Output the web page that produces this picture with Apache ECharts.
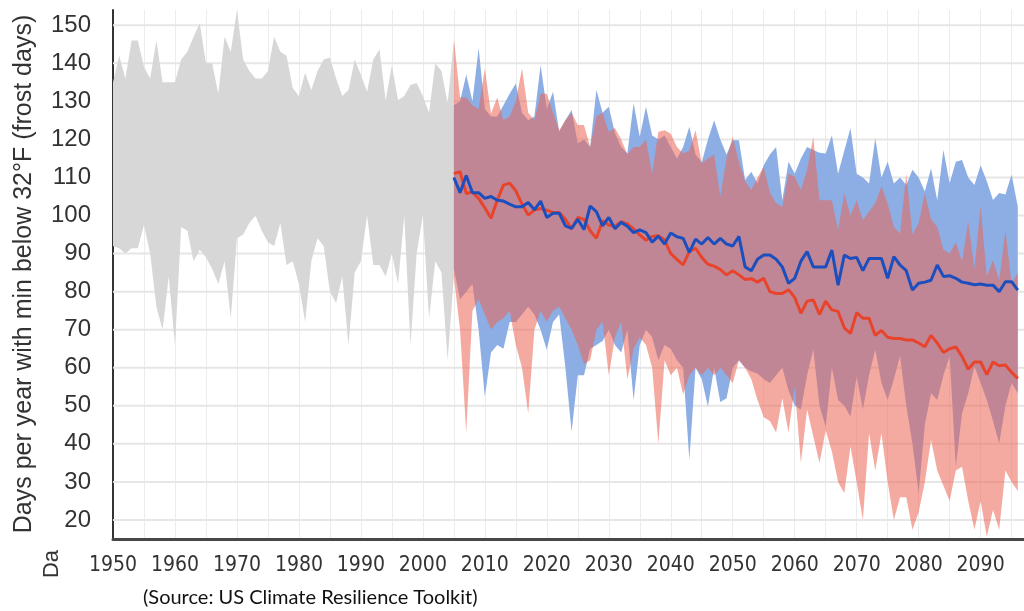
<!DOCTYPE html>
<html><head><meta charset="utf-8">
<script src="https://cdn.jsdelivr.net/npm/echarts@6/dist/echarts.min.js"></script>
<style>html,body{margin:0;padding:0;background:#fff}#c{width:1024px;height:611px}</style>
</head><body><div id="c"></div>
<script>
// ---- data ----
const histStart = 1950;
const histUpper = [135,142,136,146,146,139,136,146,135,135,
  135,141,143,147,150.5,140,140,132,147,143,
  154,141,138,136,136,138,147,143,142,133.5,
  131.4,137.5,133,138,141,141.5,136,131.4,133,141,
  137,132.5,141,143.6,130.3,139.5,130.3,131.4,134.3,134.8,
  131.4,127,140,138,129.5,146];
const histLower = [92,91.4,90,91.4,91.4,97.5,90,76,70,84,
  66,97,96,88,91,89,86,82,88,73,
  94,95,98,100,96,93,92,98,87,88,
  82,72,88,94,92,80,77,84,66,85,
  88,100,87,87,84,90,82,100,66,90,
  100,73,88,85,62,84];

const projStart = 2005;
const lowUpper = [129,130,137,130,144,
  128,126,126,129,132,134.7,127,125,126,139.5,
  128,132.5,122,125,127.7,119,120,118,133,127,
  128.6,121.6,118,116.3,129.5,120.7,128.6,121,120,121,
  118,115,118,123.3,116,114,120,125,120,116,
  119.8,119.8,109.3,111.5,108.4,113.2,116,118,104,114.1,
  111,115,118,117.2,116.5,116.3,121.1,111,117,122.9,
  111,110,108.4,120.3,110,114.1,108.4,110,108,112,
  110,106.3,112.4,104,117.2,108.5,114.1,114.6,110,108,
  113.2,109,104.1,105.9,105.5,110.8,102.3];
const lowLower = [86,78,80,82,70,
  52.4,64,66,65,72,72,74,76,74,70,
  64.7,72,74,60,43.2,58,58,65,66,67,
  70,66,64,70,51.5,66,70,68,62,66,
  65,62,60,35.8,60,57,49.8,60,51,52,
  60,62,60,59,58.5,57,56,58,60,54,
  50,49,58,64.7,50,44.5,60,51.5,50,47.2,
  57.7,49,58,64.7,56,51.5,57,63,50,40,
  27,45,53.3,51.5,58,63,34,48,53.3,60.3,
  56,51.5,46,40.1,50,56,53.3];
const lowMedian = [110,106,110.5,106,106,
  104.5,105,104,103.8,103,102.3,102.3,103.4,101.5,103.8,
  99.5,100.6,100.6,97.3,96.6,99,96.3,102.5,101,97.3,
  99.5,96.5,98.2,97.2,95.5,96.2,95.5,93,94.6,92.5,
  95.4,94.4,94,90.3,93.8,92.5,94.2,92.5,94,92.5,
  92,94.5,86.5,85.5,88.5,89.6,89.6,88.5,86.5,82.2,
  83.5,88,90.5,86.5,86.5,86.5,90.9,81.7,89.6,88.7,
  89,85.5,88.7,88.7,88.7,83.5,89.2,87,85.5,80.4,
  82.2,82.5,83,87,84,84.2,83.5,82.5,82.2,81.8,
  82,81.7,81.7,80,82.6,82.6,80.4];

const highUpper = [146.5,131,131,129,128,
  138.6,126.8,131,125,126,130,138.6,127,125,132,
  132,127,122.4,125,127,123.8,123.8,118,126,127,
  122,123,120,116,118,118,120,111,122,122.4,
  121.5,118,116.3,117,122.4,113.7,115,116,105,115,
  120.7,114,109,106.7,110,112.8,106,103.2,102.3,111,
  110.2,106.7,112,120.7,104,104,104,96.2,105.8,100,
  104,98.8,101,103.2,107.6,103.2,97,95.3,111,95,
  98,105.8,99,97,91,90,93,88,98.4,86,
  102.5,84,88.3,83,96.1,82,85];
const highLower = [84,70,43,75,78,
  74,70,72,73,75,66,60,48,70,75,
  72,75,76,73,70,66,61,62,70,72,
  58,68,72,57,65,68,66,60,40,62,
  58,60,53,58,60,58,60,58,60,58,
  56,62,60,57,51.5,47,46,43,52,43,
  55,35,49,42,35,43.6,38,30,27,39.3,
  30,20,42.8,33,42.8,30,20,26,26,17.4,
  22,30,41,33,29,25,33,34,25,17.4,
  25,15.6,22.7,17.4,33,30,27.6];
const highMedian = [111,111.5,105.8,106.2,104.5,
  102,99.3,104,108,108.5,106.5,103,100.1,101.5,101.8,
  101.4,100.8,100.8,99,96.5,99.5,99,96,94,98.6,
  97.5,97.2,98.4,97.8,96.5,94.9,93.5,94.5,94.7,93.6,
  90,88.5,87,90.5,91.4,89,87.2,86.7,85.8,84.4,
  85.5,84.4,83.2,83.4,82.5,83.5,80,79.5,79.5,80.5,
  78.5,74.3,77.5,77.8,74,77.5,75.2,74.8,70.5,69,
  74.5,73,73,68.5,69.8,68,67.7,67.7,67.3,67.3,
  66.5,65.5,68.5,66.5,64,65,65.5,63,59.6,61.5,
  61.5,58.2,61.5,60.5,60.7,58.8,57.2];

const yGridValues = [20,30,40,50,60,70,80,90,100,110,120,130,140,150];
const xMin = 1950, xMax = 2097;
const yTitle = 'Days per year with min below 32\u00B0F (frost days)';
const sourceText = '(Source: US Climate Resilience Toolkit)';

// ---- helpers ----
const pairs = (start, arr) => arr.map((v, i) => [start + i, v]);

function band(start, up, lo, color, z) {
  return {
    type: 'custom', silent: true, z, clip: false,
    data: [[start, up[0]]],
    encode: { x: 0, y: 1 },
    renderItem: function (params, api) {
      const pts = [];
      for (let i = 0; i < up.length; i++) pts.push(api.coord([start + i, up[i]]));
      for (let i = lo.length - 1; i >= 0; i--) pts.push(api.coord([start + i, lo[i]]));
      return { type: 'polygon', shape: { points: pts }, style: { fill: color, stroke: null } };
    }
  };
}

const chart = echarts.init(document.getElementById('c'), null, { renderer: 'canvas' });
chart.setOption({
  animation: false,
  backgroundColor: '#fff',
  grid: { left: 113, right: 0, top: 10, bottom: 72, containLabel: false },
  xAxis: {
    type: 'value', min: xMin, max: xMax, interval: 5,
    axisLine: { show: true, lineStyle: { color: '#474747', width: 3 } },
    axisTick: { show: false },
    splitLine: { show: true, lineStyle: { color: '#ececec', width: 1 } },
    axisLabel: {
      margin: 16, color: '#333', fontSize: 21,
      fontFamily: '"Liberation Sans Narrow", "DejaVu Sans Condensed", sans-serif',
      formatter: v => (v % 10 === 0 ? String(v) : ''),
      showMaxLabel: false
    }
  },
  yAxis: {
    type: 'value', min: 15, max: 154, interval: 5,
    axisLine: { show: true, lineStyle: { color: '#333', width: 2 } },
    axisTick: { show: false },
    splitLine: { show: false },
    axisLabel: {
      margin: 22, color: '#333', fontSize: 24, fontFamily: '"Liberation Sans", Arial, sans-serif',
      formatter: v => (v % 10 === 0 ? String(v) : ''),
      showMaxLabel: false
    }
  },
  graphic: [
    { type: 'text', x: 24, y: 274, rotation: Math.PI / 2, silent: true,
      style: { text: yTitle, fill: '#333', font: '25px "Liberation Sans", Arial, sans-serif',
        textAlign: 'center', textVerticalAlign: 'middle' } },
    { type: 'text', x: 52, y: 564, rotation: Math.PI / 2, silent: true,
      style: { text: 'Da', fill: '#333', font: '22px "Liberation Sans", Arial, sans-serif',
        textAlign: 'center', textVerticalAlign: 'middle' } },
    { type: 'text', x: 143, y: 598, silent: true,
      style: { text: sourceText, fill: '#111', font: '20px Lato, "Open Sans", sans-serif',
        textAlign: 'left', textVerticalAlign: 'middle' } }
  ],
  series: [
    { type: 'custom', silent: true, z: 1, clip: false,
      data: yGridValues.map(v => [xMin, v]),
      encode: { x: 0, y: 1 },
      renderItem: function (params, api) {
        const a = api.coord([xMin, api.value(1)]);
        const b = api.coord([xMax, api.value(1)]);
        return { type: 'line', shape: { x1: a[0], y1: a[1], x2: b[0], y2: b[1] },
          style: { stroke: '#e6e6e6', lineWidth: 2 } };
      } },
    band(histStart, histUpper, histLower, '#d7d7d7', 2),
    band(projStart, lowUpper, lowLower, '#8caee4', 3),
    band(projStart, highUpper, highLower, 'rgba(236,104,88,0.56)', 4),
    { type: 'line', data: pairs(projStart, highMedian), symbol: 'none', silent: true, z: 5,
      lineStyle: { color: '#e8442c', width: 3 } },
    { type: 'line', data: pairs(projStart, lowMedian), symbol: 'none', silent: true, z: 6,
      lineStyle: { color: '#1c4fbd', width: 3 } }
  ]
});
</script>
</body></html>
